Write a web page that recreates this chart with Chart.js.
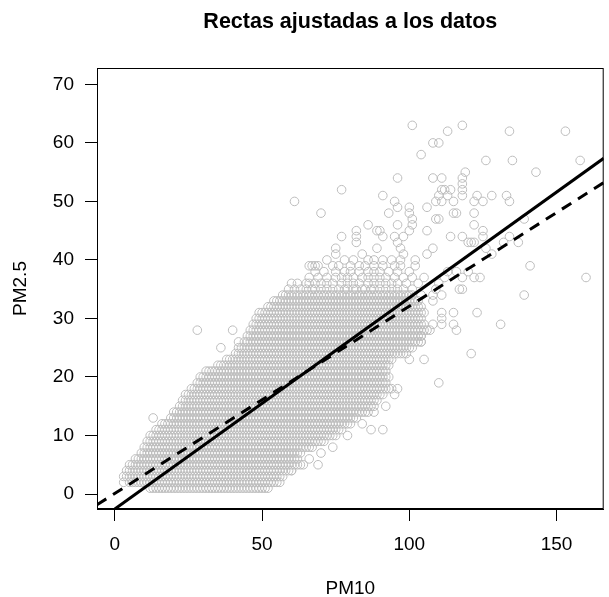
<!DOCTYPE html>
<html lang="es">
  <head>
    <meta charset="UTF-8" />
    <title>Rectas ajustadas a los datos</title>
    <style>
      * {
        margin: 0;
        padding: 0;
        box-sizing: border-box;
      }
      body {
        background-color: #ffffff;
      }
    </style>
  </head>
  <body>
    <canvas id="chart" width="609" height="597"></canvas>

    <script src="https://cdn.jsdelivr.net/npm/chart.js"></script>
    <script>
      // dense band: for each PM2.5 level, the PM10 range covered by circles
      const pm25Levels = [1, 2, 3, 4, 5, 6, 7, 8, 9, 10, 11, 12, 13, 14, 15, 16, 17,
        18, 19, 20, 21, 22, 23, 24, 25, 26, 27, 28, 29, 30, 31, 32, 33, 34];
      const pm10From = [12, 5, 3, 4, 5, 7, 9, 10, 11, 12, 14, 16, 19, 20, 22, 23, 24,
        26, 28, 29, 31, 35, 38, 41, 42, 44, 45, 46, 47, 48, 49, 52, 54, 57];
      const pm10To = [52, 56, 57, 60, 64, 62, 63, 67, 71, 75, 77, 80, 82, 86, 88, 89, 91,
        94, 92, 93, 92, 93, 94, 99, 101, 104, 104, 107, 105, 104, 105, 104, 103, 101];

      // looser rows above the band: PM2.5 level and the PM10 values seen on it
      const upperPm25 = [35, 36, 37, 38, 39, 40];
      const upperPm10 = [
        [59, 61, 63, 65, 67, 68, 70, 72, 74, 76, 78, 79, 81, 82, 84, 85, 87, 88, 90, 92, 94, 96, 98, 101, 109, 117, 118],
        [60, 62, 65, 66, 68, 70, 72, 74, 77, 79, 81, 83, 86, 88, 90, 92, 94, 96, 99, 103, 110],
        [66, 69, 72, 75, 77, 79, 81, 84, 86, 88, 90, 92, 95, 98, 101, 105, 112, 118, 122, 124, 160],
        [68, 71, 75, 78, 80, 83, 86, 88, 90, 93, 96, 100, 113, 116, 120],
        [66, 67, 68, 69, 74, 76, 80, 83, 85, 88, 91, 95, 97, 102, 141],
        [72, 78, 81, 86, 88, 91, 94, 97, 102],
      ];

      // scattered observations [PM10, PM2.5]
      const scatteredPoints = [
        [101, 63], [118, 63], [113, 62], [134, 62], [153, 62], [108, 60], [110, 60],
        [104, 58], [126, 57], [135, 57], [158, 57], [119, 55], [143, 55], [96, 54],
        [108, 54], [111, 54], [118, 54], [118, 53], [77, 52], [111, 52], [112, 52],
        [114, 52], [118, 52], [91, 51], [110, 51], [113, 51], [118, 51], [123, 51],
        [128, 51], [133, 51], [61, 50], [95, 50], [109, 50], [111, 50], [115, 50],
        [122, 50], [125, 50], [134, 50], [96, 49], [100, 49], [106, 49], [70, 48],
        [93, 48], [100, 48], [115, 48], [116, 48], [122, 48], [101, 47], [109, 47],
        [110, 47], [139, 47], [86, 46], [96, 46], [101, 46], [122, 46], [82, 45],
        [89, 45], [90, 45], [100, 45], [106, 45], [125, 45], [77, 44], [82, 44],
        [91, 44], [95, 44], [98, 44], [114, 44], [118, 44], [125, 44], [134, 44],
        [82, 43], [96, 43], [120, 43], [121, 43], [122, 43], [132, 43], [137, 43],
        [75, 42], [89, 42], [97, 42], [108, 42], [126, 42], [75, 41], [84, 41],
        [98, 41], [106, 41], [128, 41], [104, 34], [108, 34], [111, 34], [139, 34],
        [108, 33], [111, 31], [115, 31], [123, 31], [111, 30], [108, 29], [111, 29],
        [115, 29], [131, 29], [116, 28], [104, 27], [104, 26], [121, 24], [100, 23],
        [105, 23], [110, 19], [96, 18], [95, 17], [92, 15], [88, 14], [84, 12],
        [87, 11], [91, 11], [79, 10], [74, 8], [70, 7], [66, 6], [69, 5], [60, 4],
        [13, 13], [28, 28], [36, 25], [40, 28], [42, 26], [3, 2]
      ];

      // fitted lines: [intercept, slope] and the PM10 span they cover
      const solidFit = [-2.56, 0.361];
      const solidSpan = [0, 166];
      const dashedFit = [0.1, 0.32];
      const dashedSpan = [-6.06, 166];

      const xTicks = [0, 50, 100, 150];
      const yTicks = [0, 10, 20, 30, 40, 50, 60, 70];

      const points = [];
      pm25Levels.forEach((y, i) => {
        for (let x = pm10From[i]; x <= pm10To[i]; x++) points.push({ x: x, y: y });
      });
      upperPm25.forEach((y, i) => {
        upperPm10[i].forEach((x) => points.push({ x: x, y: y }));
      });
      scatteredPoints.forEach((p) => points.push({ x: p[0], y: p[1] }));

      const fitLine = (fit, span) => span.map((x) => ({ x: x, y: fit[0] + fit[1] * x }));

      const boxPlugin = {
        id: "box",
        afterDraw(chart) {
          const { ctx, chartArea } = chart;
          ctx.save();
          ctx.strokeStyle = "#000";
          ctx.lineWidth = 1;
          ctx.strokeRect(chartArea.left + 0.5, chartArea.top + 0.5,
            chartArea.width - 1, chartArea.height - 1);
          ctx.restore();
        },
      };

      Chart.defaults.font.family = "'Liberation Sans', Arial, sans-serif";
      Chart.defaults.color = "#000";

      const axisStyle = {
        grid: { drawOnChartArea: false, tickLength: 12, color: "#000", tickWidth: 1 },
        border: { display: true, color: "#000", width: 1 },
      };

      new Chart(document.getElementById("chart"), {
        type: "scatter",
        data: {
          datasets: [
            {
              label: "solid",
              data: fitLine(solidFit, solidSpan),
              showLine: true,
              borderColor: "#000",
              borderWidth: 3,
              pointRadius: 0,
              order: 0,
            },
            {
              label: "dashed",
              data: fitLine(dashedFit, dashedSpan),
              showLine: true,
              borderColor: "#000",
              borderWidth: 3,
              borderDash: [11, 8],
              pointRadius: 0,
              order: 1,
            },
            {
              label: "datos",
              data: points,
              pointStyle: "circle",
              pointRadius: 4.3,
              pointBorderWidth: 1,
              pointBorderColor: "#bdbdbd",
              pointBackgroundColor: "rgba(0,0,0,0)",
              order: 2,
            },
          ],
        },
        options: {
          responsive: false,
          animation: false,
          layout: { padding: { left: 0, right: 1, top: 0, bottom: 0 } },
          plugins: {
            legend: { display: false },
            tooltip: { enabled: false },
            title: {
              display: true,
              fullSize: false,
              text: "Rectas ajustadas a los datos",
              font: { size: 21.5, weight: "bold" },
              padding: { top: 9, bottom: 33.2 },
            },
          },
          scales: {
            x: {
              type: "linear",
              min: -6.06,
              max: 166,
              ...axisStyle,
              afterBuildTicks: (s) => { s.ticks = xTicks.map((v) => ({ value: v })); },
              afterFit: (s) => { s.height = 88; },
              ticks: { font: { size: 19 }, padding: 12, maxRotation: 0 },
              title: {
                display: true,
                text: "PM10",
                font: { size: 19, lineHeight: 1 },
                padding: { top: 0, bottom: -1 },
              },
            },
            y: {
              type: "linear",
              min: -2.56,
              max: 72.8,
              ...axisStyle,
              afterBuildTicks: (s) => { s.ticks = yTicks.map((v) => ({ value: v })); },
              afterFit: (s) => { s.width = 97; },
              ticks: { font: { size: 19 }, padding: 11 },
              title: {
                display: true,
                text: "PM2.5",
                font: { size: 19, lineHeight: 1 },
                padding: { top: 11, bottom: 0 },
              },
            },
          },
        },
        plugins: [boxPlugin],
      });
    </script>
  </body>
</html>
